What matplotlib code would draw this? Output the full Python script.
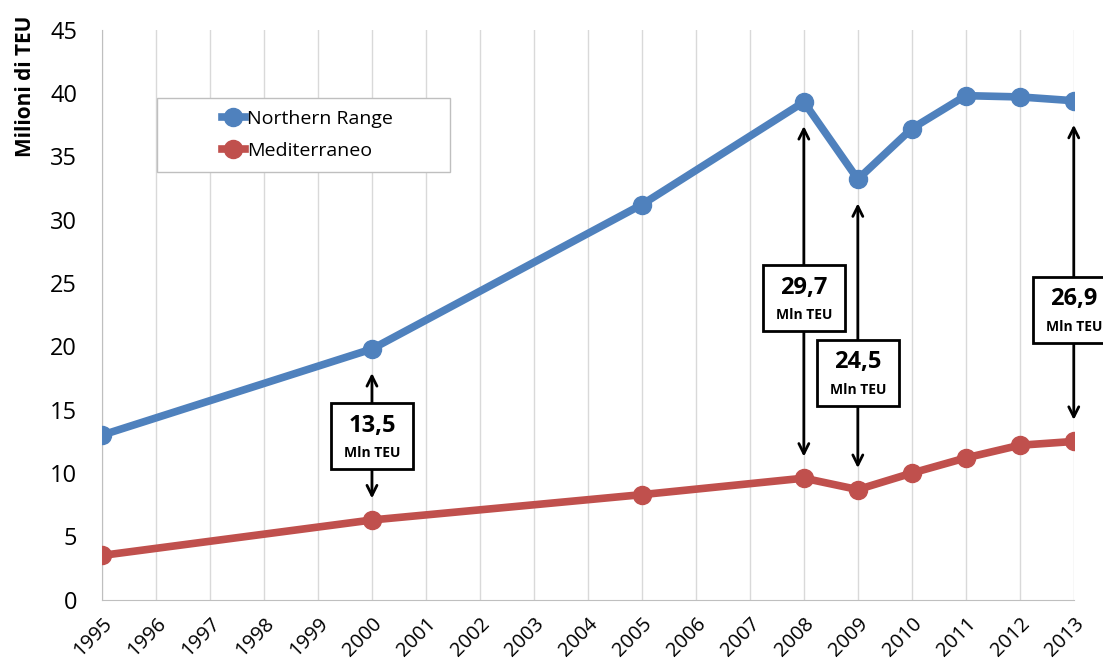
import numpy as np
import matplotlib.pyplot as plt
from matplotlib.patches import Rectangle
from matplotlib.lines import Line2D

plt.rcParams['font.family'] = ['Open Sans', 'DejaVu Sans']

# dati
anni = [1995, 2000, 2005, 2008, 2009, 2010, 2011, 2012, 2013]
northern_range = [13.0, 19.8, 31.2, 39.3, 33.2, 37.2, 39.8, 39.7, 39.4]
mediterraneo = [3.5, 6.3, 8.3, 9.6, 8.7, 10.0, 11.2, 12.2, 12.5]
anni_diff = [2000, 2008, 2009, 2013]
tick_anni = list(range(1995, 2014))

blu = '#4F81BD'
rosso = '#C0504D'

fig = plt.figure(figsize=(11.03, 6.62), dpi=100)
ax = fig.add_axes([0.0925, 0.094, 0.881, 0.861])

ax.plot(anni, northern_range, color=blu, lw=5.5, marker='o', ms=13, zorder=3)
ax.plot(anni, mediterraneo, color=rosso, lw=5.5, marker='o', ms=13, zorder=3)

ax.set_xlim(1995, 2013)
ax.set_ylim(0, 45)
ax.set_yticks(range(0, 46, 5))
ax.set_xticks(tick_anni)
ax.set_xticklabels([str(a) for a in tick_anni], rotation=45, ha='right',
                   rotation_mode='anchor', fontsize=14.5)
ax.tick_params(axis='y', labelsize=17, length=0, pad=18)
ax.tick_params(axis='x', length=0, pad=10)
ax.grid(axis='x', color='#D9D9D9', lw=1)
ax.set_axisbelow(True)
for s in ['top', 'right']:
    ax.spines[s].set_visible(False)
for s in ['left', 'bottom']:
    ax.spines[s].set_color('#BFBFBF')
ax.set_ylabel('Milioni di TEU', fontsize=15, fontweight='bold')
ax.yaxis.set_label_coords(-0.068, 0.9)

# frecce con differenze
box_y = {2000: 12.9, 2008: 23.8, 2009: 17.9, 2013: 22.9}
for anno in anni_diff:
    i = anni.index(anno)
    top = northern_range[i] - 1.9
    bottom = mediterraneo[i] + 1.7
    ax.annotate('', xy=(anno, top), xytext=(anno, bottom),
                arrowprops=dict(arrowstyle='<->', lw=2, color='black',
                                mutation_scale=18, shrinkA=0, shrinkB=0),
                zorder=4, annotation_clip=False)
    yc = box_y[anno]
    ax.add_patch(Rectangle((anno - 0.76, yc - 2.6), 1.52, 5.2, facecolor='white',
                           edgecolor='black', lw=2, zorder=5, clip_on=False))
    diff = northern_range[i] - mediterraneo[i]
    ax.text(anno, yc + 0.85, f'{diff:.1f}'.replace('.', ','), ha='center', va='center',
            fontsize=17, fontweight='bold', zorder=6)
    ax.text(anno, yc - 1.35, 'Mln TEU', ha='center', va='center',
            fontsize=10, fontweight='bold', zorder=6)

# legenda
ax.add_patch(Rectangle((0.0566, 0.751), 0.301, 0.13, transform=ax.transAxes,
                       facecolor='white', edgecolor='#BFBFBF', lw=1, zorder=5))
handles = [Line2D([], [], color=blu, lw=5.5, marker='o', ms=13),
           Line2D([], [], color=rosso, lw=5.5, marker='o', ms=13)]
ax.legend(handles, ['Northern Range', 'Mediterraneo'], loc='upper left',
          bbox_to_anchor=(0.105, 0.89), frameon=False, fontsize=14,
          handlelength=1.2, handletextpad=0.1, labelspacing=0.7).set_zorder(6)

fig.savefig('out.png', dpi=100)
